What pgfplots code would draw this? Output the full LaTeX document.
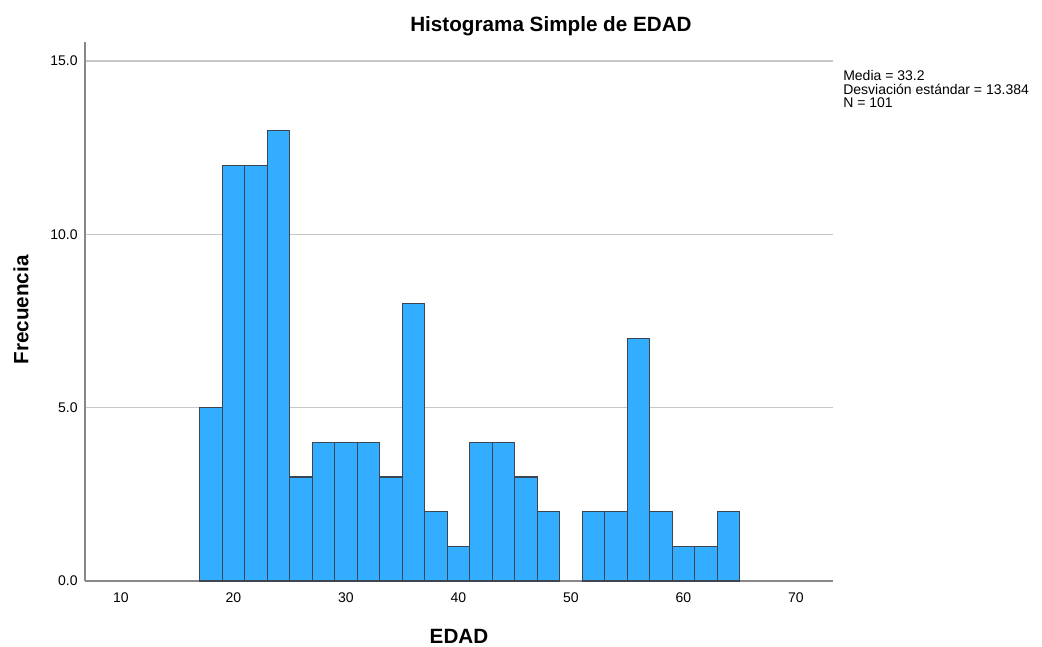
\documentclass[border=0pt]{standalone}
\usepackage{fontspec}
\setmainfont{Liberation Sans}
\usepackage{pgfplots}
\pgfplotsset{compat=1.18}
\definecolor{barfill}{HTML}{33ADFF}
\definecolor{baredge}{HTML}{3C4650}
\definecolor{gridgray}{HTML}{C8C8C8}
\definecolor{axisgray}{HTML}{888888}
\begin{document}
\begin{tikzpicture}
\useasboundingbox (0pt,0pt) rectangle (781.5pt,484.5pt);
\begin{axis}[
  at={(63.75pt,48.75pt)}, anchor=south west,
  scale only axis, width=561pt, height=404.25pt,
  xmin=6.8, xmax=73.29, ymin=0, ymax=15.55,
  axis lines*=left,
  axis line style={axisgray, line width=1.2pt},
  xtick={10,20,...,70}, ytick={0,5,10,15},
  major tick length=0pt,
  ymajorgrids, grid style={gridgray, line width=1.1pt},
  /pgf/number format/assume math mode=true,
  y tick label style={/pgf/number format/fixed, /pgf/number format/fixed zerofill, /pgf/number format/precision=1, xshift=-2pt},
  ticklabel style={font=\fontsize{10.5}{12}\selectfont},
  x tick label style={yshift=-5pt},
  clip=false,
]
% 17-49
\addplot[ybar interval, fill=barfill, draw=baredge, line width=0.8pt] coordinates {
  (17,5) (19,12) (21,12) (23,13) (25,3) (27,4) (29,4) (31,4) (33,3)
  (35,8) (37,2) (39,1) (41,4) (43,4) (45,3) (47,2) (49,0)
};
% 49-51 empty, then 51-65
\addplot[ybar interval, fill=barfill, draw=baredge, line width=0.8pt] coordinates {
  (51,2) (53,2) (55,7) (57,2) (59,1) (61,1) (63,2) (65,0)
};
\end{axis}
\node[font=\bfseries\fontsize{15.5}{18}\selectfont] at (413.25pt,465pt) {Histograma Simple de EDAD};
\node[font=\bfseries\fontsize{15.5}{18}\selectfont] at (344.25pt,7.5pt) {EDAD};
\node[font=\bfseries\fontsize{15.5}{18}\selectfont, rotate=90] at (15.75pt,252pt) {Frecuencia};
\node[anchor=north west, align=left, inner sep=0pt, font=\fontsize{10.5}{10.2}\selectfont] at (632.25pt,432pt)
  {Media = 33.2\\Desviación estándar = 13.384\\N = 101};
\end{tikzpicture}
\end{document}
